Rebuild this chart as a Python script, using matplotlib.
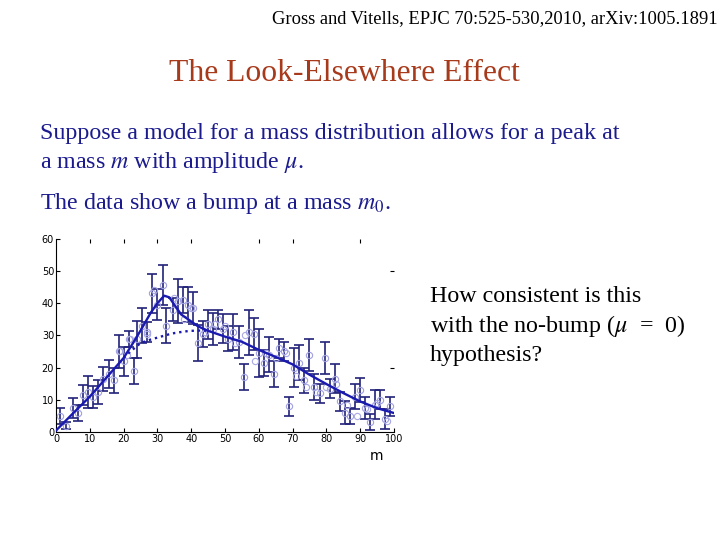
import numpy as np
import matplotlib
matplotlib.use("Agg")
import matplotlib.pyplot as plt

plt.rcParams['font.family'] = ['Liberation Serif', 'DejaVu Serif']
plt.rcParams['mathtext.fontset'] = 'stix'

# binned data with error bars
m_data = [1, 3, 5, 6.5, 8, 9.5, 11, 12.5, 14, 15.5, 17, 18.5, 20, 21.5, 23, 24, 25.5, 27,
          28.5, 30, 31.5, 32.5, 34.5, 36, 37.5, 39, 40.5, 42, 43.5, 45, 46.5, 48, 49.5, 51,
          52.5, 54, 55.5, 57, 58.5, 60, 61.5, 63, 64.5, 66, 67.5, 69, 70.5, 72, 73.5, 75,
          76.5, 78, 79.5, 81, 82.5, 84, 85.5, 87, 88.5, 90, 91.5, 93, 94.5, 96, 97.5, 99]
n_data = [5, 2, 7.5, 6, 11.5, 12.5, 11, 12.5, 16.5, 18, 16, 25, 22, 29, 19, 28.8, 33, 31,
          43, 39.5, 45.5, 33, 38, 40.7, 41, 39.5, 38.5, 27.5, 30.5, 33.5, 32, 35, 32, 29,
          31, 28, 17, 31, 30.5, 24.5, 21.5, 24, 18, 26, 25, 8, 20, 21.5, 16, 24,
          14, 12, 23, 13.5, 16.5, 9.5, 6, 5, 11, 13, 7.5, 3, 8.5, 10, 4, 8]
n_err = [2.4, 1.2, 3.2, 2.5, 3.2, 5, 3.4, 3.7, 3.8, 4.2, 4, 5, 4.5, 2.5, 4, 5.8, 5.5, 3,
         6, 4.8, 6.2, 5.5, 3.5, 6.9, 4, 5.5, 5, 5.6, 4, 4.5, 5, 3, 4.5, 4,
         5.5, 5, 4, 7, 5, 7.5, 4, 5.5, 4, 3, 3, 3, 6, 5.5, 4, 5,
         4, 3, 5, 3, 4.5, 3, 3.5, 2.5, 4, 3.8, 3.5, 2.5, 4.5, 3, 3, 3]

# extra open circles (second data set, no bars)
m_circ = [19, 21, 22, 27, 29, 35, 38, 40, 44, 47, 50, 53, 56, 59, 62, 65, 68, 71, 74,
          77, 80, 83, 86, 89, 92, 95, 98]
n_circ = [25, 24, 29, 30.5, 44, 41.5, 35, 38.5, 31, 33.5, 33, 27.5, 30, 22, 24.5, 23,
          24.5, 17.5, 14, 12.5, 14, 15, 8.5, 5, 7, 9, 3.5]

# fitted curves
m_fit = [0, 5, 10, 15, 20, 23, 25, 28, 30, 32, 33.5, 35, 37, 40, 42, 45, 50, 55, 60,
         65, 70, 75, 80, 85, 90, 95, 100]
n_sig = [0.5, 5.8, 11, 17, 23, 28, 31.5, 37, 40, 42.3, 41.8, 39.5, 36.5, 34.3, 32.8,
         31.4, 29.6, 28, 25.5, 23.3, 21, 17.8, 14.9, 12.1, 9.5, 7.4, 5.9]
m_bkg = [20, 22, 25, 28, 30, 33, 35, 38, 40, 43, 45]
n_bkg = [23, 25, 27.6, 28.7, 29.3, 30.2, 30.7, 31.2, 31.4, 31.5, 31.4]

fig = plt.figure(figsize=(7.2, 5.4), dpi=100)
fig.patch.set_facecolor('white')

fig.text(0.997, 0.966, "Gross and Vitells, EPJC 70:525-530,2010, arXiv:1005.1891",
         ha='right', va='center', fontsize=13.3, color='black')
fig.text(0.479, 0.864, "The Look-Elsewhere Effect", ha='center', va='center',
         fontsize=22.8, color='#A83A1C')
navy = '#1B1B8E'
body = 17.3
fig.text(0.055, 0.753, "Suppose a model for a mass distribution allows for a peak at",
         ha='left', va='center', fontsize=body, color=navy)
fig.text(0.055, 0.699, r"a mass $m$ with amplitude $\mu$.",
         ha='left', va='center', fontsize=body, color=navy)
fig.text(0.055, 0.623, r"The data show a bump at a mass $m_0$.",
         ha='left', va='center', fontsize=body, color=navy)
fig.text(0.597, 0.450, "How consistent is this", ha='left', va='center',
         fontsize=body, color='black')
fig.text(0.597, 0.396, r"with the no-bump ($\mu$  =  0)", ha='left', va='center',
         fontsize=body, color='black')
fig.text(0.597, 0.342, "hypothesis?", ha='left', va='center',
         fontsize=body, color='black')

ax = fig.add_axes([0.078, 0.2, 0.469, 0.358])
ax.errorbar(m_data, n_data, yerr=n_err, fmt='none', ecolor='#23237A',
            elinewidth=1.2, capsize=3.5, capthick=1.2, zorder=2)
ax.plot(m_data, n_data, 'o', ms=4.5, mfc='none', mec='#A0A0E0', mew=0.8, zorder=3)
ax.plot(m_circ, n_circ, 'o', ms=4.5, mfc='none', mec='#A8A8E4', mew=0.8, zorder=3)
ax.plot(m_bkg, n_bkg, ':', color='#1A1AB0', lw=1.7, zorder=4)
ax.plot(m_fit, n_sig, '-', color='#1A1AB0', lw=1.7, zorder=5)

ax.set_xlim(0, 100)
ax.set_ylim(0, 60)
ax.set_xticks(range(0, 101, 10))
ax.set_yticks(range(0, 61, 10))
for s in ['top', 'right']:
    ax.spines[s].set_visible(False)
for s in ['left', 'bottom']:
    ax.spines[s].set_linewidth(0.8)
ax.tick_params(direction='in', length=3, labelsize=7, pad=1.5)
for lab in ax.get_xticklabels() + ax.get_yticklabels():
    lab.set_family('DejaVu Sans')

top = ax.secondary_xaxis('top')
top.set_xticks([10, 20, 30, 40, 60, 70, 90])
top.tick_params(direction='in', length=3, labeltop=False)
top.spines['top'].set_visible(False)
right = ax.secondary_yaxis('right')
right.set_yticks([20, 50])
right.tick_params(direction='in', length=3, labelright=False)
right.spines['right'].set_visible(False)

ax.set_xlabel("m", fontsize=10, family='DejaVu Sans')
ax.xaxis.set_label_coords(0.95, -0.09)

fig.savefig("out.png", dpi=100, facecolor='white')
